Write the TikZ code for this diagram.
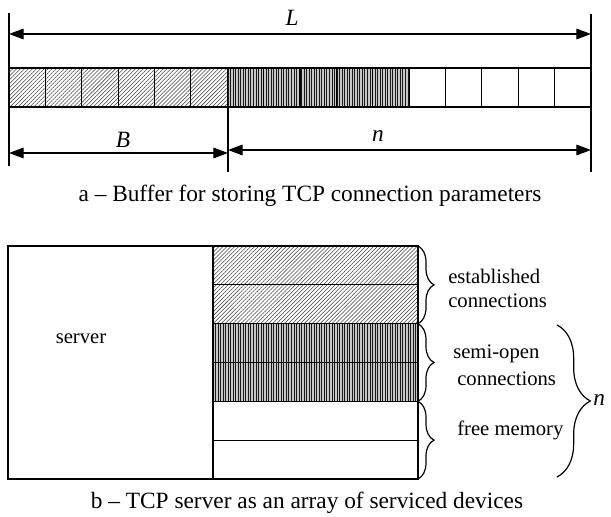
\documentclass[tikz,border=0pt]{standalone}
\usepackage{fontspec}
\setmainfont{Liberation Serif}
\usetikzlibrary{patterns.meta,arrows.meta,decorations.pathreplacing}
\begin{document}
\begin{tikzpicture}[x=0.75pt,y=-0.75pt,
  box/.style={draw,line width=0.9pt},
  diagcell/.style={box,pattern={Lines[angle=45,distance=2.1pt,line width=0.4pt]},pattern color=black!75},
  vertcell/.style={box,preaction={fill=black!22},pattern={Lines[angle=90,distance=1.9pt,line width=0.55pt]},pattern color=black!90},
  freecell/.style={box,fill=white},
  dimline/.style={line width=0.8pt},
  dimarrow/.style={line width=0.8pt,{Triangle[length=11pt,width=8pt]}-{Triangle[length=11pt,width=8pt]}},
  lbl/.style={font=\fontsize{15.5}{18}\selectfont,inner sep=0pt,anchor=base},
  ital/.style={font=\fontsize{17.5}{20}\selectfont\itshape,inner sep=0pt,anchor=base},
  lbll/.style={font=\fontsize{15.5}{18}\selectfont,inner sep=0pt,anchor=base west},
  captxt/.style={font=\fontsize{17.5}{20}\selectfont,inner sep=0pt,anchor=base},
  brc/.style={decorate,decoration={brace,amplitude=#1},line width=0.9pt}
]
\useasboundingbox (0,0) rectangle (611,517);

% ---------- a: buffer ----------
\foreach \i in {0,...,5}
  \draw[diagcell] ({9+36.375*\i},68) rectangle ({9+36.375*(\i+1)},107);
\foreach \i in {6,...,10}
  \draw[vertcell] ({9+36.375*\i},68) rectangle ({9+36.375*(\i+1)},107);
\foreach \i in {11,...,15}
  \draw[freecell] ({9+36.375*\i},68) rectangle ({9+36.375*(\i+1)},107);

\coordinate (lt) at (9,13);
\coordinate (lb) at (9,166);
\coordinate (rt) at (591,14);
\coordinate (rb) at (591,172);
\coordinate (mt) at (228,107);
\coordinate (mb) at (228,172);
\draw[dimline] (lt) -- (lb);
\draw[dimline] (rt) -- (rb);
\draw[dimline] (mt) -- (mb);

\coordinate (La) at (9,34);
\coordinate (Lb) at (591,34);
\coordinate (Ba) at (9,153);
\coordinate (Bb) at (228,153);
\coordinate (na) at (228,150);
\coordinate (nb) at (591,150);
\draw[dimarrow] (La) -- (Lb);
\draw[dimarrow] (Ba) -- (Bb);
\draw[dimarrow] (na) -- (nb);

\node[ital] (Llab) at (292,26) {L};
\node[ital] (Blab) at (123,147) {B};
\node[ital] (nlab) at (378,142) {n};

\node[captxt] (capa) at (310,201) {a – Buffer for storing TCP connection parameters};

% ---------- b: server ----------
\coordinate (s1) at (8,246);
\coordinate (s2) at (213,479);
\draw[box] (s1) rectangle (s2);
\node[lbl] (server) at (81,343) {server};

\def\rh{38.833}
\foreach \i in {0,1}
  \draw[diagcell] (213,{246+\rh*\i}) rectangle (418,{246+\rh*(\i+1)});
\foreach \i in {2,3}
  \draw[vertcell] (213,{246+\rh*\i}) rectangle (418,{246+\rh*(\i+1)});
\foreach \i in {4,5}
  \draw[freecell] (213,{246+\rh*\i}) rectangle (418,{246+\rh*(\i+1)});

\coordinate (b1t) at (418,246);
\coordinate (b1b) at (418,323.7);
\coordinate (b2t) at (418,323.7);
\coordinate (b2b) at (418,401.3);
\coordinate (b3t) at (418,401.3);
\coordinate (b3b) at (418,479);
\draw[brc=12pt] (b1t) -- (b1b);
\draw[brc=12pt] (b2t) -- (b2b);
\draw[brc=12pt] (b3t) -- (b3b);

\coordinate (bnt) at (557,325);
\coordinate (bnb) at (557,477);
\draw[brc=25pt] (bnt) -- (bnb);

\node[lbll] (est1) at (448,283) {established};
\node[lbll] (est2) at (448,307) {connections};
\node[lbll] (semi1) at (453,358) {semi-open};
\node[lbll] (semi2) at (457,385) {connections};
\node[lbll] (free) at (457,435) {free memory};
\node[ital,anchor=base west] (nbig) at (593,405) {n};

\node[captxt] (capb) at (307,508) {b – TCP server as an array of serviced devices};
\end{tikzpicture}
\end{document}
